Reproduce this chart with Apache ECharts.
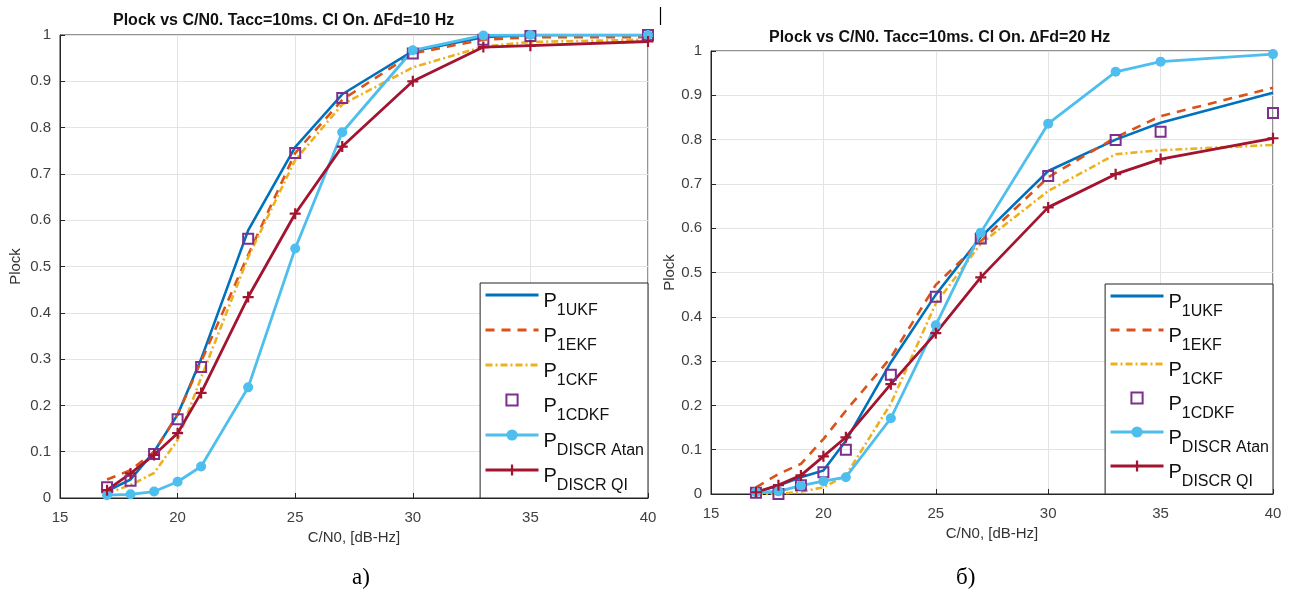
<!DOCTYPE html>
<html>
<head>
<meta charset="utf-8">
<script src="https://cdn.jsdelivr.net/npm/echarts@6/dist/echarts.min.js"></script>
<style>
html,body{margin:0;padding:0;background:#fff;}
#c{width:1294px;height:604px;}
</style>
</head>
<body>
<div id="c"></div>
<script>
// C/N0 points, dB-Hz
const cn0 = [17, 18, 19, 20, 21, 23, 25, 27, 30, 33, 35, 40];
const xTicks = [15, 20, 25, 30, 35, 40];
const yTicks = [0, 0.1, 0.2, 0.3, 0.4, 0.5, 0.6, 0.7, 0.8, 0.9, 1];

// a) dFd = 10 Hz
const ukfA  = [0.015, 0.040, 0.100, 0.180, 0.300, 0.578, 0.758, 0.872, 0.965, 0.995, 1.000, 1.000];
const ekfA  = [0.040, 0.060, 0.100, 0.180, 0.295, 0.525, 0.745, 0.860, 0.960, 0.990, 0.995, 0.995];
const ckfA  = [0.010, 0.028, 0.054, 0.125, 0.260, 0.520, 0.730, 0.850, 0.930, 0.975, 0.985, 0.990];
const cdkfA = [0.023, 0.037, 0.095, 0.170, 0.283, 0.560, 0.745, 0.864, 0.960, 0.990, 0.998, 1.000];
const atanA = [0.006, 0.008, 0.014, 0.035, 0.068, 0.239, 0.539, 0.790, 0.967, 0.999, 1.000, 1.000];
const qiA   = [0.017, 0.053, 0.093, 0.140, 0.227, 0.434, 0.614, 0.759, 0.900, 0.974, 0.977, 0.986];

// б) dFd = 20 Hz
const ukfB  = [0.004, 0.019, 0.038, 0.053, 0.120, 0.297, 0.450, 0.580, 0.729, 0.800, 0.838, 0.906];
const ekfB  = [0.015, 0.045, 0.068, 0.124, 0.188, 0.308, 0.472, 0.570, 0.715, 0.805, 0.853, 0.917];
const ckfB  = [0.000, 0.000, 0.005, 0.015, 0.042, 0.204, 0.430, 0.565, 0.684, 0.767, 0.776, 0.788];
const cdkfB = [0.003, 0.000, 0.020, 0.049, 0.100, 0.269, 0.445, 0.577, 0.718, 0.799, 0.818, 0.860];
const atanB = [0.004, 0.006, 0.019, 0.029, 0.038, 0.171, 0.381, 0.590, 0.836, 0.953, 0.976, 0.993];
const qiB   = [0.004, 0.020, 0.042, 0.085, 0.128, 0.248, 0.363, 0.489, 0.647, 0.722, 0.756, 0.803];

const names = ['1UKF', '1EKF', '1CKF', '1CDKF', 'DISCR Atan', 'DISCR QI'];
const titles = ['Plock vs C/N0. Tacc=10ms. Cl On. \u2206Fd=10 Hz', 'Plock vs C/N0. Tacc=10ms. Cl On. \u2206Fd=20 Hz'];
const panelLabels = ['а)', 'б)'];

const C = {ukf:'#0072BD', ekf:'#D95319', ckf:'#EDB120', cdkf:'#7E2F8E', atan:'#4DBEEE', qi:'#A2142F'};
const plusPath = 'path://M4,0H6V4H10V6H6V10H4V6H0V4H4Z';
const FONT = 'Liberation Sans, Arial, sans-serif';

function pts(arr){ return cn0.map((x,i)=>[x, arr[i]]); }

function seriesFor(gi, d){
  return [
    {type:'line', name:names[0], xAxisIndex:gi, yAxisIndex:gi, data:pts(d[0]), symbol:'none',
     lineStyle:{color:C.ukf, width:2.6}, itemStyle:{color:C.ukf}},
    {type:'line', name:names[1], xAxisIndex:gi, yAxisIndex:gi, data:pts(d[1]), symbol:'none',
     lineStyle:{color:C.ekf, width:2.6, type:[9,7]}, itemStyle:{color:C.ekf}},
    {type:'line', name:names[2], xAxisIndex:gi, yAxisIndex:gi, data:pts(d[2]), symbol:'none',
     lineStyle:{color:C.ckf, width:2.6, type:[7,3,2,3]}, itemStyle:{color:C.ckf}},
    {type:'line', name:names[3], xAxisIndex:gi, yAxisIndex:gi, data:pts(d[3]), symbol:'rect', symbolSize:10,
     showAllSymbol:true,
     lineStyle:{color:C.cdkf, width:0, opacity:0},
     itemStyle:{color:'rgba(255,255,255,0)', borderColor:C.cdkf, borderWidth:2}},
    {type:'line', name:names[4], xAxisIndex:gi, yAxisIndex:gi, data:pts(d[4]), symbol:'circle', symbolSize:10,
     lineStyle:{color:C.atan, width:2.8}, itemStyle:{color:C.atan}},
    {type:'line', name:names[5], xAxisIndex:gi, yAxisIndex:gi, data:pts(d[5]), symbol:plusPath, symbolSize:11,
     lineStyle:{color:C.qi, width:2.8}, itemStyle:{color:C.qi}}
  ];
}

function xAx(gi){
  return {type:'value', gridIndex:gi, min:15, max:40, interval:5,
    name:'C/N0, [dB-Hz]', nameLocation:'middle', nameGap:30,
    nameTextStyle:{color:'#333', fontSize:15, fontFamily:FONT},
    axisLine:{show:true, onZero:false, lineStyle:{color:'#262626', width:1}},
    axisTick:{show:true, inside:true, length:5, lineStyle:{color:'#262626'}},
    axisLabel:{color:'#404040', fontSize:15, fontFamily:FONT, margin:12},
    splitLine:{show:true, lineStyle:{color:'#e3e3e3', width:1}}};
}
function yAx(gi, gap){
  return {type:'value', gridIndex:gi, min:0, max:1, interval:0.1,
    name:'Plock', nameLocation:'middle', nameGap:gap,
    nameTextStyle:{color:'#333', fontSize:15, fontFamily:FONT},
    axisLine:{show:true, lineStyle:{color:'#262626', width:1}},
    axisTick:{show:true, inside:true, length:5, lineStyle:{color:'#262626'}},
    axisLabel:{color:'#404040', fontSize:15, fontFamily:FONT, margin:9,
      formatter: v => String(Math.round(v*10)/10)},
    splitLine:{show:true, lineStyle:{color:'#e3e3e3', width:1}}};
}

const rich = {
  p:{fontSize:20, lineHeight:20, padding:[6,0,0,0], verticalAlign:'top', color:'#111', fontFamily:FONT},
  s:{fontSize:16, lineHeight:16, padding:[18,0,0,0], verticalAlign:'top', color:'#111', fontFamily:FONT}
};
// legend entries: plain lines hide the fallback marker, the square hides its line
const legendData = [
  {name:names[0], itemStyle:{opacity:0}, lineStyle:{width:2.8}},
  {name:names[1], itemStyle:{opacity:0}, lineStyle:{width:2.8}},
  {name:names[2], itemStyle:{opacity:0}, lineStyle:{width:2.8}},
  {name:names[3], lineStyle:{opacity:0, width:0}},
  {name:names[4], lineStyle:{width:2.8}},
  {name:names[5], lineStyle:{width:2.8}}
];
function legendFor(pos, gap){
  return Object.assign({
    data:legendData, orient:'vertical', itemGap:gap, itemWidth:53, itemHeight:14,
    padding:[2,4,4,4], backgroundColor:'#fff', borderColor:'#222', borderWidth:1, borderRadius:0,
    formatter: n => '{p|P}{s|' + n + '}',
    textStyle:{rich:rich}, selectedMode:false
  }, pos);
}

const option = {
  backgroundColor:'#fff',
  animation:false,
  title:[
    {text:titles[0], left:108, top:8, textStyle:{fontSize:16, fontWeight:'bold', color:'#111', fontFamily:FONT}},
    {text:titles[1], left:764, top:25, textStyle:{fontSize:16, fontWeight:'bold', color:'#111', fontFamily:FONT}}
  ],
  grid:[
    {left:60, right:646, top:35, bottom:106, show:true, borderColor:'#262626', borderWidth:1, backgroundColor:'#fff'},
    {left:711, right:21, top:51, bottom:110, show:true, borderColor:'#262626', borderWidth:1, backgroundColor:'#fff'}
  ],
  xAxis:[xAx(0), xAx(1)],
  yAxis:[yAx(0, 37), yAx(1, 34)],
  legend:[
    legendFor({right:646, top:283}, 1),
    legendFor({right:21, top:284}, 0)
  ],
  series:[].concat(
    seriesFor(0, [ukfA, ekfA, ckfA, cdkfA, atanA, qiA]),
    seriesFor(1, [ukfB, ekfB, ckfB, cdkfB, atanB, qiB])
  ),
  graphic:[
    {type:'text', left:352, top:566, style:{text:panelLabels[0], fontSize:23, fontFamily:'Liberation Serif, Times New Roman, serif', fill:'#000'}},
    {type:'text', left:956, top:566, style:{text:panelLabels[1], fontSize:23, fontFamily:'Liberation Serif, Times New Roman, serif', fill:'#000'}},
    {type:'line', shape:{x1:660.5, y1:7, x2:660.5, y2:25}, style:{stroke:'#000', lineWidth:1.2}}
  ]
};

const chart = echarts.init(document.getElementById('c'), null, {renderer:'canvas'});
chart.setOption(option);
</script>
</body>
</html>
